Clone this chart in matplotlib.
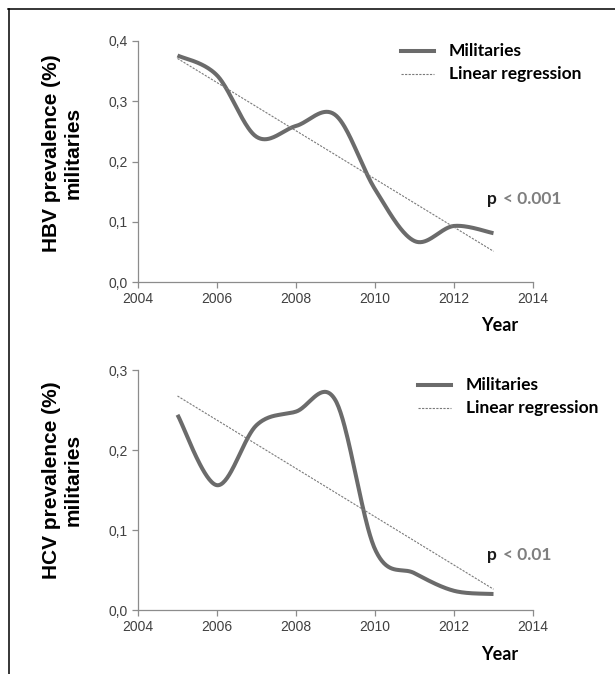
import numpy as np
import matplotlib
matplotlib.use("Agg")
import matplotlib.pyplot as plt
from matplotlib.lines import Line2D

years = [2005, 2006, 2007, 2008, 2009, 2010, 2011, 2012, 2013]
hbv = [0.376, 0.343, 0.241, 0.259, 0.277, 0.154, 0.068, 0.093, 0.081]
hcv = [0.244, 0.156, 0.231, 0.248, 0.262, 0.076, 0.046, 0.024, 0.020]
hbv_reg = [0.371, 0.051]   # regression values at 2005 and 2013
hcv_reg = [0.2675, 0.026]
xticks = [2004, 2006, 2008, 2010, 2012, 2014]
hbv_yticks = [0.0, 0.1, 0.2, 0.3, 0.4]
hcv_yticks = [0.0, 0.1, 0.2, 0.3]


def smooth(x, y, n=40):
    """Excel-like smoothed line (uniform Catmull-Rom via cubic Bezier)."""
    P = np.column_stack([x, y]).astype(float)
    pts = []
    for i in range(len(P) - 1):
        p0 = P[i - 1] if i > 0 else P[i]
        p1 = P[i]
        p2 = P[i + 1]
        p3 = P[i + 2] if i + 2 < len(P) else P[i + 1]
        c1 = p1 + (p2 - p0) / 6.0
        c2 = p2 - (p3 - p1) / 6.0
        t = np.linspace(0, 1, n)[:, None]
        b = ((1 - t) ** 3) * p1 + 3 * ((1 - t) ** 2) * t * c1 + 3 * (1 - t) * t ** 2 * c2 + t ** 3 * p2
        pts.append(b if i == 0 else b[1:])
    pts = np.vstack(pts)
    return pts[:, 0], pts[:, 1]


W, H = 615, 674
fig = plt.figure(figsize=(W / 100, H / 100), dpi=100)

line_col = "#6b6b6b"
spine_col = "#8c8c8c"
tick_col = "#404040"


def make_axes(top, bottom, yvals, reg, yticks, ylabel1, ptxt, leg_xy, year_y, p_xy, ylab_y):
    left, right = 138, 533
    ax = fig.add_axes([left / W, 1 - bottom / H, (right - left) / W, (bottom - top) / H])
    sx, sy = smooth(years, yvals)
    ax.plot(sx, sy, color=line_col, lw=2.9, solid_capstyle="butt")
    ax.plot([years[0], years[-1]], reg, color="#7a7a7a", lw=0.8, ls=(0, (2, 1.2)))
    ax.set_xlim(xticks[0], xticks[-1])
    ax.set_ylim(yticks[0], yticks[-1])
    ax.set_xticks(xticks)
    ax.set_yticks(yticks)
    ax.set_yticklabels([f"{v:.1f}".replace(".", ",") for v in yticks])
    for s in ["top", "right"]:
        ax.spines[s].set_visible(False)
    for s in ["left", "bottom"]:
        ax.spines[s].set_color(spine_col)
        ax.spines[s].set_linewidth(0.9)
    ax.tick_params(axis="both", colors=spine_col, length=4, width=0.9, direction="out",
                   labelcolor=tick_col, labelsize=10, pad=3.5)
    for lab in ax.get_xticklabels() + ax.get_yticklabels():
        lab.set_fontfamily("Liberation Sans")
    # y labels
    fig.text(52 / W, 1 - ylab_y / H, ylabel1, rotation=90, ha="center", va="center",
             fontsize=15, fontweight="bold", family="Liberation Sans")
    fig.text(73 / W, 1 - ylab_y / H, "militaries", rotation=90, ha="center", va="center",
             fontsize=15, fontweight="bold", family="Liberation Sans")
    # legend (manual)
    lx, ly = leg_xy
    fig.add_artist(Line2D([lx / W, (lx + 33) / W], [1 - ly / H, 1 - ly / H], color=line_col, lw=2.9))
    fig.add_artist(Line2D([lx / W, (lx + 33) / W], [1 - (ly + 23) / H, 1 - (ly + 23) / H],
                          color="#7a7a7a", lw=0.8, ls=(0, (2, 1.2))))
    fig.text((lx + 48) / W, 1 - ly / H, "Militaries", ha="left", va="center", fontsize=12.5,
             fontweight="bold", family="Lato")
    fig.text((lx + 48) / W, 1 - (ly + 23) / H, "Linear regression", ha="left", va="center", fontsize=12.5,
             fontweight="bold", family="Lato")
    # year label
    fig.text(500 / W, 1 - year_y / H, "Year", ha="center", va="center", fontsize=13,
             fontweight="bold", family="Lato")
    # p annotation
    px, py = p_xy
    fig.text(px / W, 1 - py / H, "p", ha="left", va="center", fontsize=12.5,
             fontweight="bold", family="Lato", color="#1a1a1a")
    fig.text((px + 16) / W, 1 - py / H, ptxt, ha="left", va="center", fontsize=12.5,
             fontweight="bold", family="Lato", color="#7f7f7f")
    return ax


make_axes(41, 282, hbv, hbv_reg, hbv_yticks, "HBV prevalence (%)", "< 0.001", (401, 51), 325, (487, 199), 153)
make_axes(370, 610, hcv, hcv_reg, hcv_yticks, "HCV prevalence (%)", "< 0.01", (418, 385), 655, (487, 555), 480)

# page border (top and left)
fig.add_artist(Line2D([8 / W, 1.0], [1 - 9 / H, 1 - 9 / H], color="black", lw=1.1))
fig.add_artist(Line2D([9 / W, 9 / W], [1 - 9 / H, 0.0], color="black", lw=1.1))

fig.savefig("out.png", dpi=100)
